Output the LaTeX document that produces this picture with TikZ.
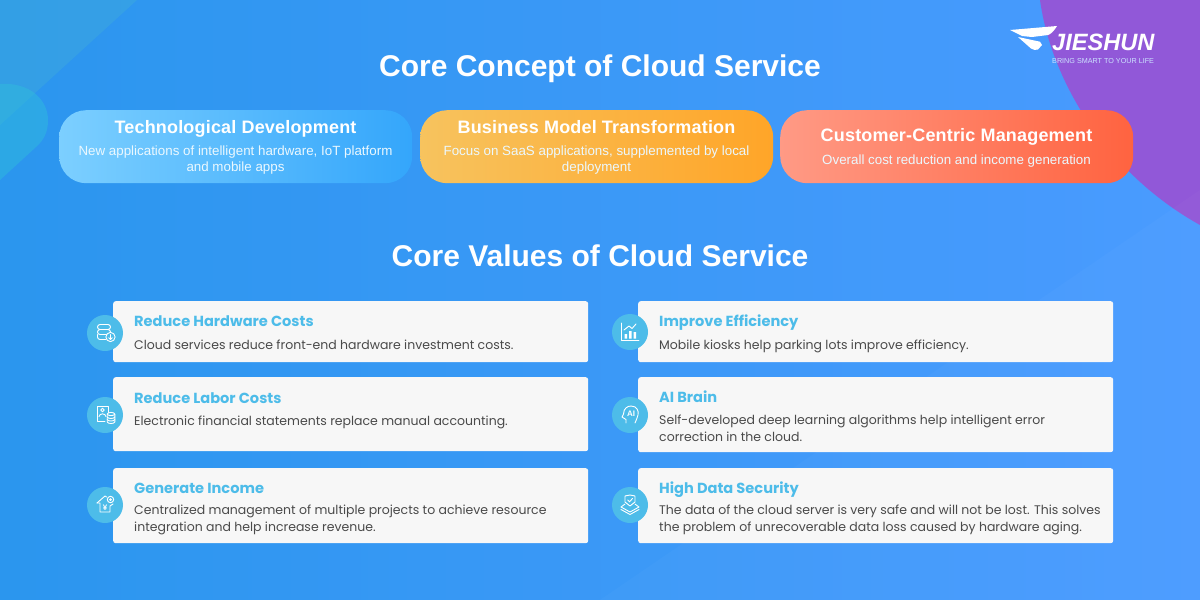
\documentclass[tikz,border=0pt]{standalone}
\usepackage{fontspec}
\setmainfont{Liberation Sans}
\newfontfamily\cardfont{Poppins}
\usetikzlibrary{calc}
\definecolor{bgleft}{HTML}{2B96EE}
\definecolor{bgright}{HTML}{4A9BFF}
\definecolor{purp}{HTML}{9158D8}
\definecolor{cardbg}{HTML}{F7F7F7}
\definecolor{headc}{HTML}{4DBCE9}
\definecolor{bodyc}{HTML}{4A4A4A}
\definecolor{blob}{HTML}{2FC0DC}
\definecolor{pa}{HTML}{7CCFFF}\definecolor{pb}{HTML}{34A6FB}
\definecolor{pc}{HTML}{F7C35E}\definecolor{pd}{HTML}{FFA528}
\definecolor{pe}{HTML}{FF9A85}\definecolor{pf}{HTML}{FF6340}
\tikzset{
  x=1pt,y=-1pt,
  mainhead/.style={font=\bfseries\fontsize{30}{34}\selectfont,text=white,anchor=base,inner sep=0},
  pill/.style={rounded corners=27pt,anchor=north west,minimum width=353pt,minimum height=73pt,inner sep=0,shading=axis,shading angle=90},
  pilltitle/.style={font=\bfseries\fontsize{18}{20}\selectfont\addfontfeature{LetterSpace=1},text=white,inner sep=0,anchor=base},
  pilltext/.style={font=\fontsize{13.35}{16}\selectfont,text=white!92!cyan,inner sep=0,anchor=center,align=center},
  card/.style={fill=cardbg,rounded corners=2.5pt,anchor=north west,minimum width=475pt,inner sep=0},
  cardtitle/.style={font=\cardfont\fontsize{14.6}{17}\selectfont\bfseries,text=headc,inner sep=0,anchor=base west},
  cardtext/.style={font=\cardfont\fontsize{12.5}{17}\selectfont,text=bodyc,inner sep=0,anchor=base west,align=left},
  cardtwo/.style={cardtext,anchor=west},
  badge/.style={circle,fill=headc,minimum size=36pt,inner sep=0},
  ic/.style={draw=white,line width=.9pt,line cap=round,line join=round,fill=none}
}
\begin{document}
\begin{tikzpicture}
\useasboundingbox (0,0) rectangle (1200,600);
\shade[left color=bgleft,right color=bgright] (0,0) rectangle (1200,600);
% background decoration
\fill[purp] (1040,0) .. controls (1052,85) and (1110,175) .. (1200,225) -- (1200,0) -- cycle;
\fill[white!55!green!40!bgleft,opacity=.22] (0,0) -- (137,0) -- (0,125) -- cycle;
\fill[blob,opacity=.45] (0,84) .. controls (30,82) and (48,100) .. (48,120) .. controls (48,132) and (44,140) .. (36,147) -- (0,180) -- cycle;
\fill[white,opacity=.025] (600,600) -- (1200,190) -- (1200,600) -- cycle;
% logo
\fill[white] (1010,30) -- (1057,26) .. controls (1054,31) and (1051,34) .. (1048,35) -- (1032,37) -- (1022,36) -- cycle;
\fill[white] (1018,37) -- (1040,41.7) -- (1042,45) -- (1038,49.5) .. controls (1036,50.5) and (1033,50) .. (1031,48.5) -- cycle;
\node[inner sep=0,anchor=base west,text=white,font=\bfseries\itshape\fontsize{23.6}{24}\selectfont] (logo) at (1052,50) {JIESHUN};
\node[inner sep=0,anchor=base west,text=white!72!bgright,font=\fontsize{7.2}{10}\selectfont] (slogan) at (1052,63) {BRING SMART TO YOUR LIFE};
% headings
\node[mainhead] (h1) at (600,76) {Core Concept of Cloud Service};
\node[mainhead] (h2) at (600,266) {Core Values of Cloud Service};
% pills
\node[pill,left color=pa,right color=pb] (p1) at (59,110) {};
\node[pill,left color=pc,right color=pd] (p2) at (420,110) {};
\node[pill,left color=pe,right color=pf] (p3) at (780,110) {};
\node[pilltitle] (p1t) at (235.5,133) {Technological Development};
\node[pilltext] (p1d) at (235.5,160.5) {New applications of intelligent hardware, IoT platform\\and mobile apps};
\node[pilltitle] (p2t) at (596.5,133) {Business Model Transformation};
\node[pilltext] (p2d) at (596.5,160.5) {Focus on SaaS applications, supplemented by local\\deployment};
\node[pilltitle] (p3t) at (956.5,141) {Customer-Centric Management};
\node[pilltext] (p3d) at (956.5,161) {Overall cost reduction and income generation};
% cards
\node[card,minimum height=61pt] (c1) at (113,301) {};
\node[card,minimum height=74pt] (c2) at (113,377) {};
\node[card,minimum height=75pt] (c3) at (113,468) {};
\node[card,minimum height=61pt] (c4) at (638,301) {};
\node[card,minimum height=75pt] (c5) at (638,377) {};
\node[card,minimum height=75pt] (c6) at (638,468) {};
\node[cardtitle] (c1t) at (134,326.5) {Reduce Hardware Costs};
\node[cardtext] (c1d) at (134,349) {Cloud services reduce front-end hardware investment costs.};
\node[cardtitle] (c2t) at (134,403.5) {Reduce Labor Costs};
\node[cardtext] (c2d) at (134,425) {Electronic financial statements replace manual accounting.};
\node[cardtitle] (c3t) at (134,493.5) {Generate Income};
\node[cardtwo] (c3d) at (134,520) {Centralized management of multiple projects to achieve resource\\integration and help increase revenue.};
\node[cardtitle] (c4t) at (659,326.5) {Improve Efficiency};
\node[cardtext] (c4d) at (659,349) {Mobile kiosks help parking lots improve efficiency.};
\node[cardtitle] (c5t) at (659,402.5) {AI Brain};
\node[cardtwo] (c5d) at (659,428.5) {Self-developed deep learning algorithms help intelligent error\\correction in the cloud.};
\node[cardtitle] (c6t) at (659,493.5) {High Data Security};
\node[cardtwo] (c6d) at (659,520) {The data of the cloud server is very safe and will not be lost. This solves\\the problem of unrecoverable data loss caused by hardware aging.};
% badges
\node[badge] (b1) at (105,333) {};
\node[badge] (b2) at (105,415) {};
\node[badge] (b3) at (105,505) {};
\node[badge] (b4) at (630,332) {};
\node[badge] (b5) at (630,415) {};
\node[badge] (b6) at (630,505) {};
% icon 1: database + download
\begin{scope}[shift={(b1.center)}]
\draw[ic,rounded corners=2.5pt] (-7.5,-8.5) rectangle (5.5,-3.5);
\draw[ic,rounded corners=2.5pt] (-7.5,-3.5) rectangle (5.5,1.5);
\draw[ic,rounded corners=2.5pt] (-7.5,1.5) -- (-7.5,6.5) -- (1,6.5);
\draw[ic,fill=headc] (5.5,4) circle (4.6);
\draw[ic] (5.5,1.5) -- (5.5,6.3) (3.6,4.6) -- (5.5,6.5) -- (7.4,4.6);
\end{scope}
% icon 2: statement + coins
\begin{scope}[shift={(b2.center)}]
\draw[ic] (0,6) -- (-8,6) -- (-8,-9) -- (3,-9) -- (3,-2);
\draw[ic] (-2.5,-5) circle (1.8);
\draw[ic] (-6,1.5) .. controls (-5.5,-2) and (.5,-2) .. (1,1.5);
\draw[ic,fill=headc] (6,-1) ellipse (3.8 and 1.6);
\draw[ic] (2.2,-1) -- (2.2,7) .. controls (3,9) and (9,9) .. (9.8,7) -- (9.8,-1);
\draw[ic] (2.2,2) .. controls (3,4) and (9,4) .. (9.8,2) (2.2,4.5) .. controls (3,6.5) and (9,6.5) .. (9.8,4.5);
\end{scope}
% icon 3: house + yen
\begin{scope}[shift={(b3.center)}]
\draw[ic] (-8,-2) -- (0,-9) -- (1.5,-8);
\draw[ic] (-8,-2) -- (-5,-2) -- (-5,7) -- (5,7) -- (5,1) -- (8,-1);
\node[inner sep=0,text=white,font=\bfseries\fontsize{8}{8}\selectfont] (yen) at (0,2.5) {¥};
\draw[ic] (5.5,-5.5) circle (3.2);
\fill[white] (5.5,-5.5) circle (1.5);
\end{scope}
% icon 4: chart
\begin{scope}[shift={(b4.center)}]
\draw[ic] (-8.5,-9) -- (-8.5,8) -- (9,8);
\fill[white] (-5.5,2) rectangle (-3,6.5) (-1,-1) rectangle (1.5,6.5) (3.5,0) rectangle (6,6.5);
\draw[ic] (-6,-2) -- (-1,-6) -- (2,-3.5) -- (6,-8);
\end{scope}
% icon 5: AI head
\begin{scope}[shift={(b5.center)}]
\draw[ic] (-4,8) -- (-4,4.5) -- (-8,2) -- (-6.5,-1) .. controls (-6.5,-7) and (-2,-9) .. (1,-9) .. controls (7,-9) and (9,-4) .. (8,0) .. controls (7.5,3) and (6,5) .. (5,8);
\node[inner sep=0,text=white,font=\bfseries\fontsize{8}{9}\selectfont] (ai) at (1,-1) {AI};
\end{scope}
% icon 6: shield on stack
\begin{scope}[shift={(b6.center)}]
\draw[ic] (-5,-9) -- (0,-10) -- (5,-9) -- (5,-3) -- (0,1) -- (-5,-3) -- cycle;
\draw[ic] (-2.2,-5) -- (-.5,-3.2) -- (2.5,-6.5);
\draw[ic] (-5,-1) -- (-9,2) -- (0,7) -- (9,2) -- (5,-1);
\draw[ic] (-9,4.5) -- (0,9.5) -- (9,4.5);
\end{scope}
\end{tikzpicture}
\end{document}
